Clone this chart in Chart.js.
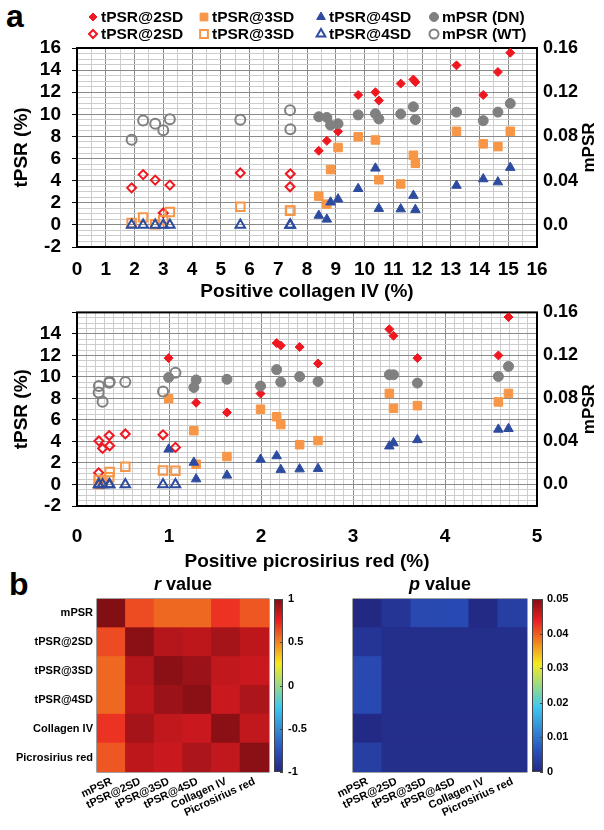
<!DOCTYPE html>
<html>
<head>
<meta charset="utf-8">
<script src="https://cdn.jsdelivr.net/npm/chart.js"></script>
<style>
  body { margin: 0; background: #fff; }
  #page { position: relative; width: 604px; height: 830px; overflow: hidden; font-family: "Liberation Sans", Arial, sans-serif; }
  canvas { position: absolute; }
  .panel { position: absolute; font-weight: bold; font-size: 32px; line-height: 32px; }
</style>
</head>
<body>
<div id="page">
  <div class="panel" style="left:6px;top:0px">a</div>
  <div class="panel" style="left:9px;top:568px">b</div>
  <canvas id="collagen" width="604" height="305" style="left:0;top:0"></canvas>
  <canvas id="picro" width="604" height="290" style="left:0;top:290px"></canvas>
  <canvas id="rmap" width="330" height="270" style="left:0;top:560px"></canvas>
  <canvas id="pmap" width="284" height="270" style="left:320px;top:560px"></canvas>
</div>
<script>
const FONT = '"Liberation Sans", Arial, sans-serif';
Chart.defaults.font.family = FONT;
Chart.defaults.color = '#000';

// WT mice (open markers)
const wtCollagen = [1.90, 2.30, 2.72, 3.00, 3.23, 5.68, 7.41, 7.42];
const wtPicro = [0.278, 0.350, 0.238, 0.235, 0.355, 0.525, 1.07, 0.935];
const wt2SD = [3.35, 4.55, 4.05, 1.08, 3.60, 4.70, 3.45, 4.62];
const wt3SD = [0.18, 0.68, 0.05, 0.42, 1.17, 1.65, 1.28, 1.30];
const wt4SD = [0, 0, 0, 0, 0, 0, 0, 0];
const wtMPSR = [0.0770, 0.0945, 0.0915, 0.0855, 0.0955, 0.0952, 0.1038, 0.0865];

// DN mice (filled markers)
const dnCollagen = [8.41, 8.69, 8.82, 9.08, 9.78, 10.38, 10.50, 11.26, 11.70, 11.77, 13.20, 14.13, 14.64, 15.07];
const dnPicro = [1.63, 1.295, 1.27, 1.995, 0.996, 4.58, 2.62, 2.42, 2.17, 2.215, 3.395, 3.70, 3.44, 4.69];
const dn2SD = [6.70, 7.60, 9.00, 8.45, 11.75, 12.00, 11.25, 12.78, 13.15, 12.92, 14.43, 11.75, 13.83, 15.57];
const dn3SD = [2.60, 1.88, 5.00, 7.00, 7.97, 7.68, 4.08, 3.70, 6.30, 5.57, 8.47, 7.33, 7.08, 8.47];
const dn4SD = [0.85, 0.50, 2.05, 2.33, 3.27, 5.12, 1.47, 1.43, 2.65, 1.38, 3.56, 4.15, 3.87, 5.18];
const dnMPSR = [0.0978, 0.0972, 0.0902, 0.0915, 0.0995, 0.1005, 0.0958, 0.1003, 0.1068, 0.0952, 0.1020, 0.0943, 0.1020, 0.1098];

const mpsrTicks = [0, 0.04, 0.08, 0.12, 0.16];

// correlation matrices
const matrixLabels = ['mPSR', 'tPSR@2SD', 'tPSR@3SD', 'tPSR@4SD', 'Collagen IV', 'Picrosirius red'];
const rValues = [
  [1.00, 0.64, 0.57, 0.57, 0.70, 0.61],
  [0.64, 0.98, 0.88, 0.86, 0.92, 0.86],
  [0.57, 0.88, 0.98, 0.94, 0.85, 0.83],
  [0.57, 0.86, 0.94, 0.98, 0.83, 0.90],
  [0.70, 0.92, 0.85, 0.83, 0.98, 0.85],
  [0.61, 0.86, 0.83, 0.90, 0.85, 0.98]
];
const pValues = [
  [0.0000, 0.0020, 0.0050, 0.0052, 0.0003, 0.0036],
  [0.0020, 0.0010, 0.0010, 0.0010, 0.0010, 0.0010],
  [0.0050, 0.0010, 0.0010, 0.0010, 0.0010, 0.0010],
  [0.0052, 0.0010, 0.0010, 0.0010, 0.0010, 0.0010],
  [0.0003, 0.0010, 0.0010, 0.0010, 0.0010, 0.0010],
  [0.0036, 0.0010, 0.0010, 0.0010, 0.0010, 0.0010]
];
const rTicks = [-1, -0.5, 0, 0.5, 1];
const pTicks = [0, 0.01, 0.02, 0.03, 0.04, 0.05];

const RED = '#f01820', ORANGE = '#f79646', BLUE = '#2d4b9f', GRAY = '#808080';
const MAJOR = '#8a8a8a', MINOR = '#cdcdcd';
const NONE = 'rgba(0,0,0,0)';

const isWhole = v => Math.abs(v - Math.round(v)) < 1e-6;
const pts = (xs, ys) => xs.map((x, i) => ({ x, y: ys[i] }));

function marker(label, data, style, radius, color, open, legendRadius, extra) {
  return Object.assign({
    label, data,
    pointStyle: style,
    pointRadius: radius,
    pointBackgroundColor: open ? NONE : color,
    pointBorderColor: color,
    pointBorderWidth: open ? 2 : 1,
    legendRadius
  }, extra);
}

function series(xWT, xDN) {
  return [
    marker('tPSR@2SD', pts(xDN, dn2SD), 'rectRot', 4.5, RED, false, 4, { order: 4 }),
    marker('tPSR@3SD', pts(xDN, dn3SD), 'rect', 6, ORANGE, false, 5.5, { order: 3 }),
    marker('tPSR@4SD', pts(xDN, dn4SD), 'triangle', 5.5, BLUE, false, 5, { order: 2 }),
    marker('mPSR (DN)', pts(xDN, dnMPSR), 'circle', 5, GRAY, false, 4.5, { order: 1, yAxisID: 'y1' }),
    marker('tPSR@2SD', pts(xWT, wt2SD), 'rectRot', 4.5, RED, true, 4, { order: 4 }),
    marker('tPSR@3SD', pts(xWT, wt3SD), 'rect', 6, ORANGE, true, 5.5, { order: 3 }),
    marker('tPSR@4SD', pts(xWT, wt4SD), 'triangle', 5.5, BLUE, true, 5, { order: 2 }),
    marker('mPSR (WT)', pts(xWT, wtMPSR), 'circle', 5, GRAY, true, 4.5, { order: 1, yAxisID: 'y1' })
  ];
}

const framePlugin = {
  id: 'frame',
  beforeDatasetsDraw(chart, args, opts) {
    const { ctx, chartArea: a } = chart;
    ctx.save();
    ctx.strokeStyle = opts.color || '#000';
    ctx.lineWidth = opts.width || 2;
    ctx.strokeRect(a.left, a.top, a.right - a.left, a.bottom - a.top);
    ctx.restore();
  }
};

const sideTitlePlugin = {
  id: 'sideTitle',
  afterDraw(chart, args, opts) {
    const { ctx, chartArea: a } = chart;
    ctx.save();
    ctx.translate(opts.x, (a.top + a.bottom) / 2);
    ctx.rotate(-Math.PI / 2);
    ctx.font = `bold 17px ${FONT}`;
    ctx.fillStyle = '#000';
    ctx.textAlign = 'center';
    ctx.textBaseline = 'middle';
    ctx.fillText(opts.text, 0, 0);
    ctx.restore();
  }
};

const legendCols = [93, 204, 321, 434];
const legendRows = [17, 34];
const gridLegendPlugin = {
  id: 'gridLegend',
  afterDraw(chart) {
    const { ctx } = chart;
    chart.data.datasets.forEach((ds, i) => {
      const x = legendCols[i % 4], y = legendRows[Math.floor(i / 4)];
      ctx.save();
      ctx.fillStyle = ds.pointBackgroundColor;
      ctx.strokeStyle = ds.pointBorderColor;
      ctx.lineWidth = ds.pointBorderWidth;
      Chart.helpers.drawPoint(ctx, { pointStyle: ds.pointStyle, radius: ds.legendRadius, borderWidth: ds.pointBorderWidth, rotation: 0 }, x, y);
      ctx.font = `bold 15.5px ${FONT}`;
      ctx.fillStyle = '#000';
      ctx.textAlign = 'left';
      ctx.textBaseline = 'middle';
      ctx.fillText(ds.label, x + 8, y + 1);
      ctx.restore();
    });
  }
};

function scatterChart(id, cfg) {
  return new Chart(document.getElementById(id), {
    type: 'scatter',
    data: { datasets: series(cfg.xWT, cfg.xDN) },
    plugins: cfg.legend ? [framePlugin, sideTitlePlugin, gridLegendPlugin] : [framePlugin, sideTitlePlugin],
    options: {
      responsive: false,
      animation: false,
      events: [],
      layout: { padding: { top: cfg.padTop, left: 0, right: 0, bottom: 0 } },
      plugins: {
        legend: { display: false },
        tooltip: { enabled: false },
        frame: { color: '#000', width: 2 },
        sideTitle: { text: 'mPSR', x: 589 }
      },
      scales: {
        x: {
          type: 'linear', min: 0, max: cfg.xMax,
          ticks: {
            stepSize: cfg.xStep, autoSkip: false, maxRotation: 0, padding: cfg.xTickPad,
            font: { size: 19, weight: 'bold' },
            callback: v => isWhole(v) ? String(Math.round(v)) : ''
          },
          grid: { drawTicks: false, color: c => isWhole(c.tick.value) ? MAJOR : MINOR },
          border: { display: false },
          title: { display: true, text: cfg.xTitle, font: { size: 19, weight: 'bold' }, padding: { top: 0, bottom: cfg.xTitlePad } },
          afterFit: s => { s.height = cfg.xAxisHeight; }
        },
        y: {
          type: 'linear', min: -2, max: 16,
          ticks: {
            stepSize: 0.5, autoSkip: false, padding: 11,
            font: { size: 19, weight: 'bold' },
            callback: v => (isWhole(v / 2) && v <= cfg.yTop) ? String(Math.round(v)) : ''
          },
          grid: {
            tickLength: 5,
            color: c => isWhole(c.tick.value / 2) ? MAJOR : MINOR,
            tickColor: c => isWhole(c.tick.value / 2) ? '#000' : NONE
          },
          border: { display: false },
          title: { display: true, text: 'tPSR (%)', font: { size: 19, weight: 'bold' }, padding: { top: 10.5, bottom: 0 } },
          afterFit: s => { s.width = 77; }
        },
        y1: {
          type: 'linear', position: 'right', min: -0.02, max: 0.16,
          afterBuildTicks: s => { s.ticks = mpsrTicks.map(v => ({ value: v })); },
          ticks: {
            padding: 6, font: { size: 18, weight: 'bold' },
            callback: v => v === 0 ? '0.0' : v.toFixed(2)
          },
          grid: { display: false, drawTicks: false },
          border: { display: false },
          afterFit: s => { s.width = 67; }
        }
      }
    }
  });
}

scatterChart('collagen', {
  xWT: wtCollagen, xDN: dnCollagen, xMax: 16, xStep: 0.5, legend: true,
  padTop: 48, xAxisHeight: 58, xTickPad: 11.6, xTitlePad: 1.6, yTop: 16,
  xTitle: 'Positive collagen IV (%)'
});

scatterChart('picro', {
  xWT: wtPicro, xDN: dnPicro, xMax: 5, xStep: 0.1, legend: false,
  padTop: 15, xAxisHeight: 74, xTickPad: 19.6, xTitlePad: 6.6, yTop: 14,
  xTitle: 'Positive picrosirius red (%)'
});

// jet-like colour map, sampled from the printed colour bars
const jetStops = [
  [0.000, [35, 40, 130]],
  [0.125, [42, 80, 188]],
  [0.375, [60, 200, 240]],
  [0.625, [245, 235, 30]],
  [0.875, [235, 30, 35]],
  [1.000, [130, 15, 20]]
];
function colormap(t) {
  t = Math.max(0, Math.min(1, t));
  for (let i = 1; i < jetStops.length; i++) {
    const [t0, c0] = jetStops[i - 1];
    const [t1, c1] = jetStops[i];
    if (t <= t1) {
      const f = (t - t0) / (t1 - t0);
      return `rgb(${c0.map((c, k) => Math.round(c + (c1[k] - c) * f)).join(',')})`;
    }
  }
  return 'rgb(130,15,20)';
}

const colorbarPlugin = {
  id: 'colorbar',
  afterDraw(chart, args, opts) {
    const { ctx, chartArea: a } = chart;
    const s = chart.scales.y1;
    const top = s.getPixelForValue(s.max), bottom = s.getPixelForValue(s.min);
    const x = a.right + opts.gap, w = opts.width;
    const g = ctx.createLinearGradient(0, bottom, 0, top);
    jetStops.forEach(([t, c]) => g.addColorStop(t, `rgb(${c.join(',')})`));
    ctx.save();
    ctx.fillStyle = g;
    ctx.fillRect(x, top, w, bottom - top);
    ctx.strokeStyle = '#444';
    ctx.lineWidth = 1;
    ctx.strokeRect(x + 0.5, top + 0.5, w - 1, bottom - top - 1);
    s.ticks.forEach(t => {
      const y = Math.round(s.getPixelForValue(t.value)) + 0.5;
      ctx.beginPath();
      ctx.moveTo(x + w - 3, y);
      ctx.lineTo(x + w, y);
      ctx.stroke();
    });
    ctx.restore();
  }
};

const mapTitlePlugin = {
  id: 'mapTitle',
  afterDraw(chart, args, opts) {
    const { ctx, chartArea: a } = chart;
    ctx.save();
    ctx.fillStyle = '#000';
    ctx.textBaseline = 'middle';
    const f1 = `italic bold 18px ${FONT}`, f2 = `bold 18px ${FONT}`;
    ctx.font = f1;
    const w1 = ctx.measureText(opts.symbol).width;
    ctx.font = f2;
    const w2 = ctx.measureText(' value').width;
    const x = (a.left + a.right) / 2 - (w1 + w2) / 2;
    ctx.font = f1;
    ctx.fillText(opts.symbol, x, opts.y);
    ctx.font = f2;
    ctx.fillText(' value', x + w1, opts.y);
    ctx.restore();
  }
};

function cellRadius(chart) {
  const xs = chart.scales.x, ys = chart.scales.y;
  if (!xs || !ys) return 10;
  const w = Math.abs(xs.getPixelForValue(1) - xs.getPixelForValue(0));
  const h = Math.abs(ys.getPixelForValue(1) - ys.getPixelForValue(0));
  return (Math.max(w, h) + 1) * Math.SQRT1_2;
}

function heatmapChart(id, values, cfg) {
  const cells = [];
  values.forEach((row, i) => row.forEach((v, j) => cells.push({ x: j, y: i, v })));
  const idx = matrixLabels.map((_, i) => ({ value: i }));
  return new Chart(document.getElementById(id), {
    type: 'scatter',
    data: {
      datasets: [{
        data: cells,
        clip: 0,
        pointStyle: 'rect',
        pointRadius: ctx => cellRadius(ctx.chart),
        pointBorderWidth: 0,
        pointBackgroundColor: ctx => ctx.raw ? colormap((ctx.raw.v - cfg.min) / (cfg.max - cfg.min)) : '#000'
      }]
    },
    plugins: [framePlugin, colorbarPlugin, mapTitlePlugin],
    options: {
      responsive: false,
      animation: false,
      events: [],
      layout: { padding: { top: 39, left: 0, right: 0, bottom: 0 } },
      plugins: {
        legend: { display: false },
        tooltip: { enabled: false },
        frame: { color: '#444', width: 1 },
        colorbar: { gap: cfg.barGap, width: cfg.barWidth },
        mapTitle: { symbol: cfg.symbol, y: 25 }
      },
      scales: {
        x: {
          type: 'linear', min: -0.5, max: 5.5,
          afterBuildTicks: s => { s.ticks = idx.map(t => ({ value: t.value })); },
          ticks: {
            autoSkip: false, maxRotation: 25, minRotation: 25, padding: 3,
            font: { size: 11, weight: 'bold' },
            callback: v => matrixLabels[v]
          },
          grid: { display: false, drawTicks: false },
          border: { display: false },
          afterFit: s => { s.height = 58; }
        },
        y: {
          type: 'linear', min: -0.5, max: 5.5, reverse: true,
          afterBuildTicks: s => { s.ticks = idx.map(t => ({ value: t.value })); },
          ticks: {
            autoSkip: false, padding: 4,
            font: { size: 11, weight: 'bold' },
            callback: v => cfg.rowLabels ? matrixLabels[v] : ''
          },
          grid: { display: false, drawTicks: false },
          border: { display: false },
          afterFit: s => { s.width = cfg.leftWidth; }
        },
        y1: {
          type: 'linear', position: 'right', min: cfg.min, max: cfg.max,
          afterBuildTicks: s => { s.ticks = cfg.ticks.map(v => ({ value: v })); },
          ticks: {
            padding: cfg.barLabelPad, font: { size: 11, weight: 'bold' },
            callback: v => String(v)
          },
          grid: { display: false, drawTicks: false },
          border: { display: false },
          afterFit: s => { s.width = cfg.rightWidth; }
        }
      }
    }
  });
}

heatmapChart('rmap', rValues, {
  min: -1, max: 1, ticks: rTicks, symbol: 'r', rowLabels: true,
  leftWidth: 97, rightWidth: 61, barGap: 5, barWidth: 9, barLabelPad: 19
});

heatmapChart('pmap', pValues, {
  min: 0, max: 0.05, ticks: pTicks, symbol: 'p', rowLabels: false,
  leftWidth: 33, rightWidth: 77, barGap: 5, barWidth: 11, barLabelPad: 20
});
</script>
</body>
</html>
